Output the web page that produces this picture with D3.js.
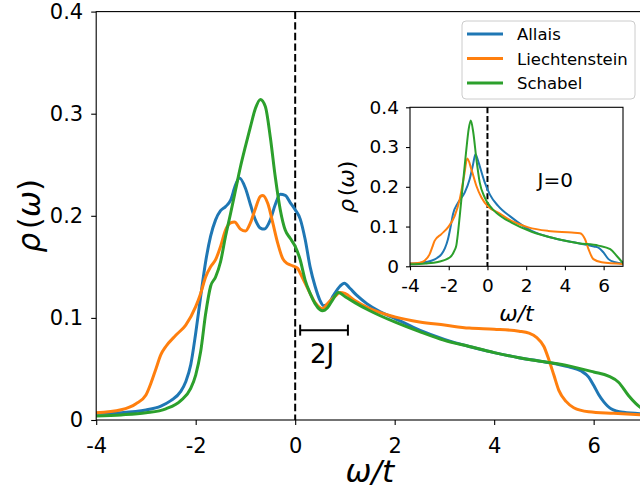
<!DOCTYPE html>
<html>
<head>
<meta charset="utf-8">
<script src="https://cdn.jsdelivr.net/npm/d3@7"></script>
<style>
  html, body { margin: 0; padding: 0; background: #fff; }
  svg { display: block; font-family: "DejaVu Sans", sans-serif; }
</style>
</head>
<body>
<svg id="chart" width="640" height="491"></svg>
<script>
// Spectral function rho(omega) for three models, with J and without (inset)
const seriesNames = ["Allais", "Liechtenstein", "Schabel"];
const seriesColors = ["#1f77b4", "#ff7f0e", "#2ca02c"];

const xTicks = [-4, -2, 0, 2, 4, 6];
const xTickLabels = ["-4", "-2", "0", "2", "4", "6"];
const yTicks = [0, 0.1, 0.2, 0.3, 0.4];
const yTickLabels = ["0", "0.1", "0.2", "0.3", "0.4"];

// main panel, finite J: [omega, rho]
const allaisJ = [
  [-4.0,0.0065],[-3.5,0.0072],[-3.0,0.0098],[-2.7,0.0137],[-2.5,0.019],[-2.3,0.028],
  [-2.2,0.0375],[-2.1,0.054],[-2.0,0.085],[-1.9,0.121],[-1.8,0.155],[-1.7,0.18],
  [-1.6,0.196],[-1.5,0.205],[-1.4,0.209],[-1.3,0.215],[-1.2,0.23],[-1.12,0.237],
  [-1.0,0.227],[-0.9,0.211],[-0.8,0.196],[-0.7,0.188],[-0.62,0.187],[-0.5,0.196],
  [-0.4,0.211],[-0.3,0.221],[-0.2,0.22],[-0.1,0.213],[0.0,0.206],[0.1,0.197],
  [0.2,0.177],[0.3,0.150],[0.4,0.131],[0.5,0.117],[0.57,0.112],[0.67,0.114],
  [0.77,0.122],[0.9,0.131],[0.99,0.134],[1.1,0.129],[1.24,0.122],[1.44,0.114],
  [1.71,0.106],[2.0,0.0996],[2.5,0.088],[3.0,0.079],[3.5,0.072],[4.0,0.066],
  [4.5,0.061],[5.0,0.057],[5.5,0.052],[5.75,0.048],[5.9,0.042],[6.0,0.034],
  [6.1,0.025],[6.2,0.018],[6.35,0.011],[6.6,0.0075],[7.0,0.006]
];
const liechtensteinJ = [
  [-4.0,0.007],[-3.5,0.010],[-3.2,0.016],[-3.0,0.0245],[-2.9,0.036],[-2.8,0.05],
  [-2.7,0.064],[-2.6,0.072],[-2.4,0.083],[-2.2,0.093],[-2.0,0.111],[-1.9,0.124],
  [-1.8,0.140],[-1.7,0.150],[-1.6,0.157],[-1.5,0.170],[-1.4,0.186],[-1.3,0.193],
  [-1.22,0.194],[-1.1,0.187],[-1.0,0.185],[-0.9,0.193],[-0.8,0.207],[-0.7,0.219],
  [-0.65,0.220],[-0.55,0.212],[-0.45,0.193],[-0.35,0.173],[-0.25,0.158],[-0.15,0.153],
  [-0.05,0.151],[0.05,0.1485],[0.1,0.144],[0.2,0.134],[0.3,0.124],[0.4,0.115],
  [0.5,0.110],[0.55,0.109],[0.65,0.114],[0.8,0.121],[0.9,0.125],[1.0,0.124],
  [1.2,0.117],[1.5,0.109],[2.0,0.101],[2.5,0.096],[3.0,0.093],[3.5,0.090],
  [4.0,0.089],[4.5,0.087],[4.7,0.085],[4.85,0.081],[5.0,0.072],[5.1,0.059],
  [5.2,0.044],[5.3,0.029],[5.45,0.018],[5.6,0.012],[5.9,0.008],[6.4,0.0065],[7.0,0.005]
];
const schabelJ = [
  [-4.0,0.004],[-3.5,0.005],[-3.0,0.007],[-2.6,0.011],[-2.3,0.019],[-2.1,0.031],
  [-2.0,0.044],[-1.9,0.067],[-1.8,0.104],[-1.7,0.131],[-1.6,0.140],[-1.5,0.155],
  [-1.4,0.180],[-1.3,0.202],[-1.2,0.225],[-1.1,0.248],[-1.0,0.268],[-0.9,0.287],
  [-0.8,0.305],[-0.7,0.314],[-0.6,0.307],[-0.5,0.277],[-0.4,0.238],[-0.3,0.206],
  [-0.2,0.186],[-0.1,0.178],[0.0,0.170],[0.1,0.157],[0.2,0.137],[0.3,0.124],
  [0.4,0.114],[0.5,0.108],[0.55,0.107],[0.65,0.110],[0.75,0.1175],[0.87,0.125],
  [1.0,0.121],[1.2,0.115],[1.5,0.107],[2.0,0.096],[2.5,0.0865],[3.0,0.078],
  [3.5,0.072],[4.0,0.066],[4.5,0.061],[5.0,0.057],[5.5,0.053],[6.0,0.047],
  [6.3,0.043],[6.5,0.037],[6.7,0.024],[6.85,0.016],[7.0,0.010]
];

// inset, J = 0
const allais0 = [
  [-4.0,0.007],[-3.4,0.009],[-2.9,0.014],[-2.6,0.021],[-2.38,0.03],[-2.2,0.045],
  [-2.04,0.068],[-1.9,0.10],[-1.78,0.131],[-1.52,0.16],[-1.17,0.186],[-0.92,0.219],
  [-0.75,0.255],[-0.62,0.282],[-0.5,0.268],[-0.4,0.252],[-0.14,0.211],[0.12,0.181],
  [0.55,0.152],[1.24,0.123],[2.28,0.089],[3.49,0.070],[4.7,0.058],[5.5,0.05],
  [5.73,0.047],[5.99,0.035],[6.25,0.018],[6.6,0.010],[7.0,0.007]
];
const liechtenstein0 = [
  [-4.0,0.007],[-3.5,0.009],[-3.25,0.014],[-2.99,0.03],[-2.85,0.048],[-2.73,0.064],
  [-2.38,0.081],[-2.04,0.098],[-1.69,0.127],[-1.43,0.169],[-1.21,0.227],[-1.04,0.271],
  [-0.83,0.244],[-0.57,0.202],[-0.31,0.173],[0.03,0.150],[0.55,0.135],[1.24,0.114],
  [2.11,0.098],[3.14,0.089],[4.35,0.085],[4.78,0.083],[5.04,0.068],[5.22,0.043],
  [5.47,0.018],[5.9,0.010],[7.0,0.006]
];
const schabel0 = [
  [-4.0,0.005],[-3.2,0.007],[-2.56,0.011],[-1.95,0.022],[-1.7,0.04],[-1.61,0.052],
  [-1.52,0.085],[-1.43,0.127],[-1.26,0.211],[-1.09,0.294],[-0.97,0.345],[-0.86,0.367],
  [-0.73,0.336],[-0.57,0.269],[-0.4,0.211],[-0.14,0.173],[0.12,0.152],[0.55,0.131],
  [1.24,0.110],[2.28,0.087],[3.49,0.070],[4.7,0.058],[5.73,0.052],[6.34,0.043],
  [6.68,0.026],[7.0,0.008]
];

const mainSeries = [allaisJ, liechtensteinJ, schabelJ];
const insetSeries = [allais0, liechtenstein0, schabel0];

// bar marking the exchange scale 2J on the omega axis
const twoJStart = 0.1;
const twoJEnd = 1.06;
const twoJLevel = 0.088;

const svg = d3.select("#chart");

function drawPanel(g, opts) {
  const x = d3.scaleLinear().domain([-4, 7]).range([opts.left, opts.right]);
  const y = d3.scaleLinear().domain([0, 0.4]).range([opts.bottom, opts.top]);
  const clipId = opts.id + "-clip";

  g.append("clipPath").attr("id", clipId)
    .append("rect")
    .attr("x", opts.left).attr("y", opts.top)
    .attr("width", opts.right - opts.left).attr("height", opts.bottom - opts.top);

  g.append("rect")
    .attr("x", opts.left).attr("y", opts.top)
    .attr("width", opts.right - opts.left).attr("height", opts.bottom - opts.top)
    .attr("fill", "#fff");

  const plot = g.append("g").attr("clip-path", `url(#${clipId})`);

  // Fermi level
  plot.append("line")
    .attr("x1", x(0)).attr("x2", x(0))
    .attr("y1", opts.top).attr("y2", opts.bottom)
    .attr("stroke", "#000").attr("stroke-width", 2)
    .attr("stroke-dasharray", opts.dash);

  const line = d3.line()
    .x(d => x(d[0])).y(d => y(d[1]))
    .curve(d3.curveMonotoneX);

  opts.series.forEach((s, i) => {
    plot.append("path")
      .datum(s)
      .attr("d", line)
      .attr("fill", "none")
      .attr("stroke", seriesColors[i])
      .attr("stroke-width", opts.lw)
      .attr("stroke-linejoin", "round")
      .attr("stroke-linecap", "round");
  });

  // spines
  g.append("rect")
    .attr("x", opts.left).attr("y", opts.top)
    .attr("width", opts.right - opts.left).attr("height", opts.bottom - opts.top)
    .attr("fill", "none").attr("stroke", "#000").attr("stroke-width", 1.1);

  const xAxis = d3.axisBottom(x)
    .tickValues(xTicks)
    .tickFormat((d, i) => xTickLabels[i])
    .tickSize(opts.tickLen).tickPadding(opts.xPad).tickSizeOuter(0);
  const yAxis = d3.axisLeft(y)
    .tickValues(yTicks)
    .tickFormat((d, i) => yTickLabels[i])
    .tickSize(opts.tickLen).tickPadding(opts.yPad).tickSizeOuter(0);

  const gx = g.append("g").attr("transform", `translate(0,${opts.bottom})`).call(xAxis);
  const gy = g.append("g").attr("transform", `translate(${opts.left},0)`).call(yAxis);
  [gx, gy].forEach(ax => {
    ax.select(".domain").remove();
    ax.selectAll(".tick line").attr("stroke", "#000").attr("stroke-width", 1.1);
    ax.selectAll(".tick text")
      .attr("fill", "#000")
      .style("font-family", "DejaVu Sans")
      .style("font-size", opts.tickFont + "px");
  });

  // omega / t
  const xl = g.append("text")
    .attr("x", (opts.left + opts.right) / 2)
    .attr("y", opts.xLabelY)
    .attr("text-anchor", "middle")
    .style("font-size", opts.labelFont + "px");
  xl.append("tspan").style("font-style", "italic").text("ω/t");

  // rho(omega)
  const yl = g.append("text")
    .attr("transform", `translate(${opts.yLabelX},${(opts.top + opts.bottom) / 2}) rotate(-90)`)
    .attr("text-anchor", "middle")
    .style("font-size", opts.labelFont + "px");
  yl.append("tspan").style("font-style", "italic").text("ρ");
  yl.append("tspan").attr("dx", opts.labelFont * 0.12).text("(");
  yl.append("tspan").style("font-style", "italic").text("ω");
  yl.append("tspan").text(")");

  return { x, y };
}

// main panel
const main = drawPanel(svg.append("g"), {
  id: "main", left: 96.2, right: 643.4, top: 11.6, bottom: 420,
  series: mainSeries, lw: 3, dash: "7.4,3.2",
  tickLen: 5, xPad: 13, yPad: 8, tickFont: 21,
  labelFont: 31, xLabelY: 482, yLabelX: 40
});

// 2J marker
const gj = svg.append("g");
const jy = main.y(twoJLevel);
gj.append("line")
  .attr("x1", main.x(twoJStart)).attr("x2", main.x(twoJEnd))
  .attr("y1", jy).attr("y2", jy)
  .attr("stroke", "#000").attr("stroke-width", 2);
[twoJStart, twoJEnd].forEach(v => {
  gj.append("line")
    .attr("x1", main.x(v)).attr("x2", main.x(v))
    .attr("y1", jy - 5.5).attr("y2", jy + 5.5)
    .attr("stroke", "#000").attr("stroke-width", 2);
});
gj.append("text")
  .attr("x", (main.x(twoJStart) + main.x(twoJEnd)) / 2 - 2)
  .attr("y", jy + 33)
  .attr("text-anchor", "middle")
  .style("font-size", "26px")
  .text("2J");

// legend
const lg = svg.append("g");
lg.append("rect")
  .attr("x", 462).attr("y", 21).attr("width", 173).attr("height", 78)
  .attr("rx", 4).attr("ry", 4)
  .attr("fill", "#fff").attr("fill-opacity", 0.8)
  .attr("stroke", "#cccccc").attr("stroke-width", 1);
seriesNames.forEach((name, i) => {
  const ly = 34 + i * 24.5;
  lg.append("line")
    .attr("x1", 467).attr("x2", 503).attr("y1", ly).attr("y2", ly)
    .attr("stroke", seriesColors[i]).attr("stroke-width", 3);
  lg.append("text")
    .attr("x", 517).attr("y", ly + 6)
    .style("font-size", "16.5px")
    .attr("fill", "#000")
    .text(name);
});

// inset, J = 0
const inset = drawPanel(svg.append("g"), {
  id: "inset", left: 410, right: 623, top: 107.3, bottom: 266.3,
  series: insetSeries, lw: 2, dash: "6,2.6",
  tickLen: 4, xPad: 9, yPad: 7, tickFont: 18.5,
  labelFont: 22, xLabelY: 321, yLabelX: 354
});
svg.append("text")
  .attr("x", inset.x(3.5)).attr("y", 187.3)
  .attr("text-anchor", "middle")
  .style("font-size", "20px")
  .text("J=0");
</script>
</body>
</html>
